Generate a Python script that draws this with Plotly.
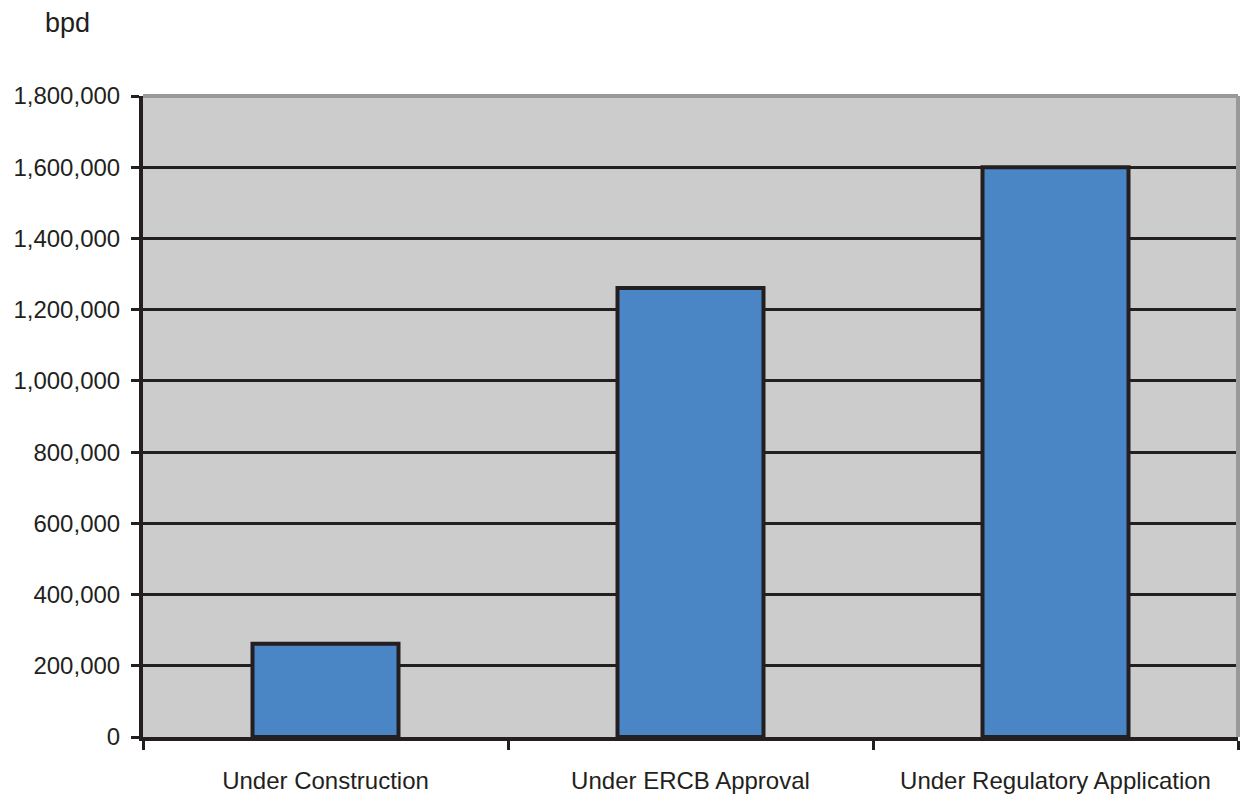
import plotly.graph_objects as go

categories = ["Under Construction", "Under ERCB Approval", "Under Regulatory Application"]
values = [262000, 1261000, 1600000]
y_ticks = [0, 200000, 400000, 600000, 800000, 1000000, 1200000, 1400000, 1600000, 1800000]

fig = go.Figure()
fig.add_trace(go.Bar(
    x=categories, y=values,
    marker=dict(color="#4a86c5", line=dict(color="#231f20", width=4)),
))

fig.update_layout(
    width=1243, height=804,
    margin=dict(l=143, r=5, t=96, b=67),
    paper_bgcolor="white", plot_bgcolor="#cccccc",
    bargap=0.6, showlegend=False,
    font=dict(family="Liberation Sans, Arial, sans-serif", size=24, color="#231f20"),
    xaxis=dict(
        type="category", tickson="boundaries", ticks="outside", ticklen=9,
        tickwidth=3, tickcolor="#231f20", showline=True, linecolor="#231f20",
        linewidth=4, showgrid=False, tickfont=dict(size=24),
        ticklabelstandoff=19,
    ),
    yaxis=dict(
        range=[0, 1800000], tickvals=y_ticks, tickformat=",",
        ticks="outside", ticklen=8, tickwidth=3, tickcolor="#231f20",
        showline=True, linecolor="#231f20", linewidth=4,
        showgrid=True, gridcolor="#231f20", gridwidth=3,
        zeroline=False, tickfont=dict(size=24), ticklabelstandoff=6,
    ),
    shapes=[
        dict(type="line", xref="paper", yref="paper", x0=0, x1=1, y0=1, y1=1,
             line=dict(color="#999999", width=4)),
        dict(type="line", xref="paper", yref="paper", x0=1, x1=1, y0=0, y1=1,
             line=dict(color="#999999", width=4)),
    ],
    annotations=[
        dict(text="bpd", xref="paper", x=-0.091, yref="paper", y=1.087,
             xanchor="left", yanchor="bottom", showarrow=False,
             font=dict(size=27, color="#231f20")),
    ],
)

fig.write_html("out.html")
